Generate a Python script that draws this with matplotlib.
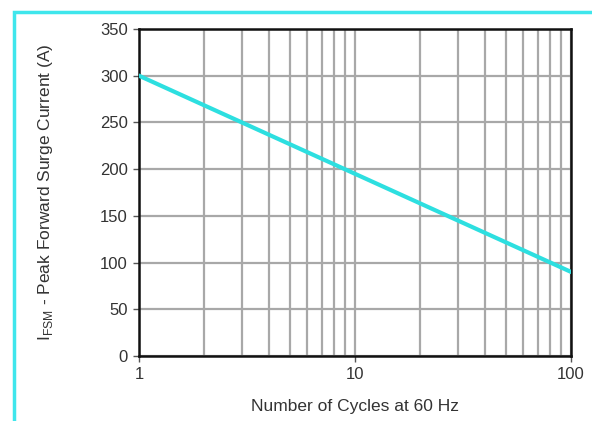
import numpy as np
import matplotlib
matplotlib.use('Agg')
import matplotlib.pyplot as plt
from matplotlib.patches import Rectangle
from matplotlib.ticker import LogLocator, NullFormatter, FixedLocator

cycles = [1, 10, 100]
current = [300, 195, 90]
yticks = [0, 50, 100, 150, 200, 250, 300, 350]
xticks = [1, 10, 100]
xticklabels = ['1', '10', '100']

plt.rcParams['font.family'] = ['Liberation Sans', 'DejaVu Sans']
plt.rcParams['mathtext.fontset'] = 'custom'
plt.rcParams['mathtext.rm'] = 'Liberation Sans'

fig = plt.figure(figsize=(5.92, 4.21), dpi=100)
fig.patch.set_facecolor('white')

# cyan outer frame (runs off right/bottom edge)
fig.patches.append(Rectangle((14/592, -0.1), 1.2, 1 - 12/421 + 0.1, transform=fig.transFigure,
                             fill=False, edgecolor='#3fe6ec', linewidth=2.5, zorder=0))

ax = fig.add_axes([139/592, 1 - 356/421, 432/592, 327/421])
ax.set_xscale('log')
ax.set_xlim(1, 100)
ax.set_ylim(0, 350)

ax.plot(cycles, current, color='#2ddfe0', linewidth=3, zorder=3)

ax.xaxis.set_major_locator(FixedLocator(xticks))
ax.set_xticklabels(xticklabels)
ax.xaxis.set_minor_locator(LogLocator(base=10, subs=np.arange(2, 10)))
ax.xaxis.set_minor_formatter(NullFormatter())
ax.set_yticks(yticks)

ax.grid(True, which='both', axis='x', color='#a8a8a8', linewidth=1.6, zorder=1)
ax.grid(True, which='major', axis='y', color='#a8a8a8', linewidth=1.6, zorder=1)
ax.tick_params(axis='x', which='minor', length=0)
ax.tick_params(axis='both', which='major', direction='out', length=4, width=1,
               color='#555555', labelsize=12, labelcolor='#333333', pad=4)

for s in ax.spines.values():
    s.set_color('#111111')
    s.set_linewidth(1.8)

ax.set_xlabel('Number of Cycles at 60 Hz', fontsize=12.5, color='#333333')
ax.set_ylabel(r'I$_{\mathregular{FSM}}$ - Peak Forward Surge Current (A)', fontsize=12.5,
              color='#333333')
ax.xaxis.set_label_coords(0.5, -0.13)
ax.yaxis.set_label_coords(-0.195, 0.5)

fig.savefig('out.png', dpi=100)
